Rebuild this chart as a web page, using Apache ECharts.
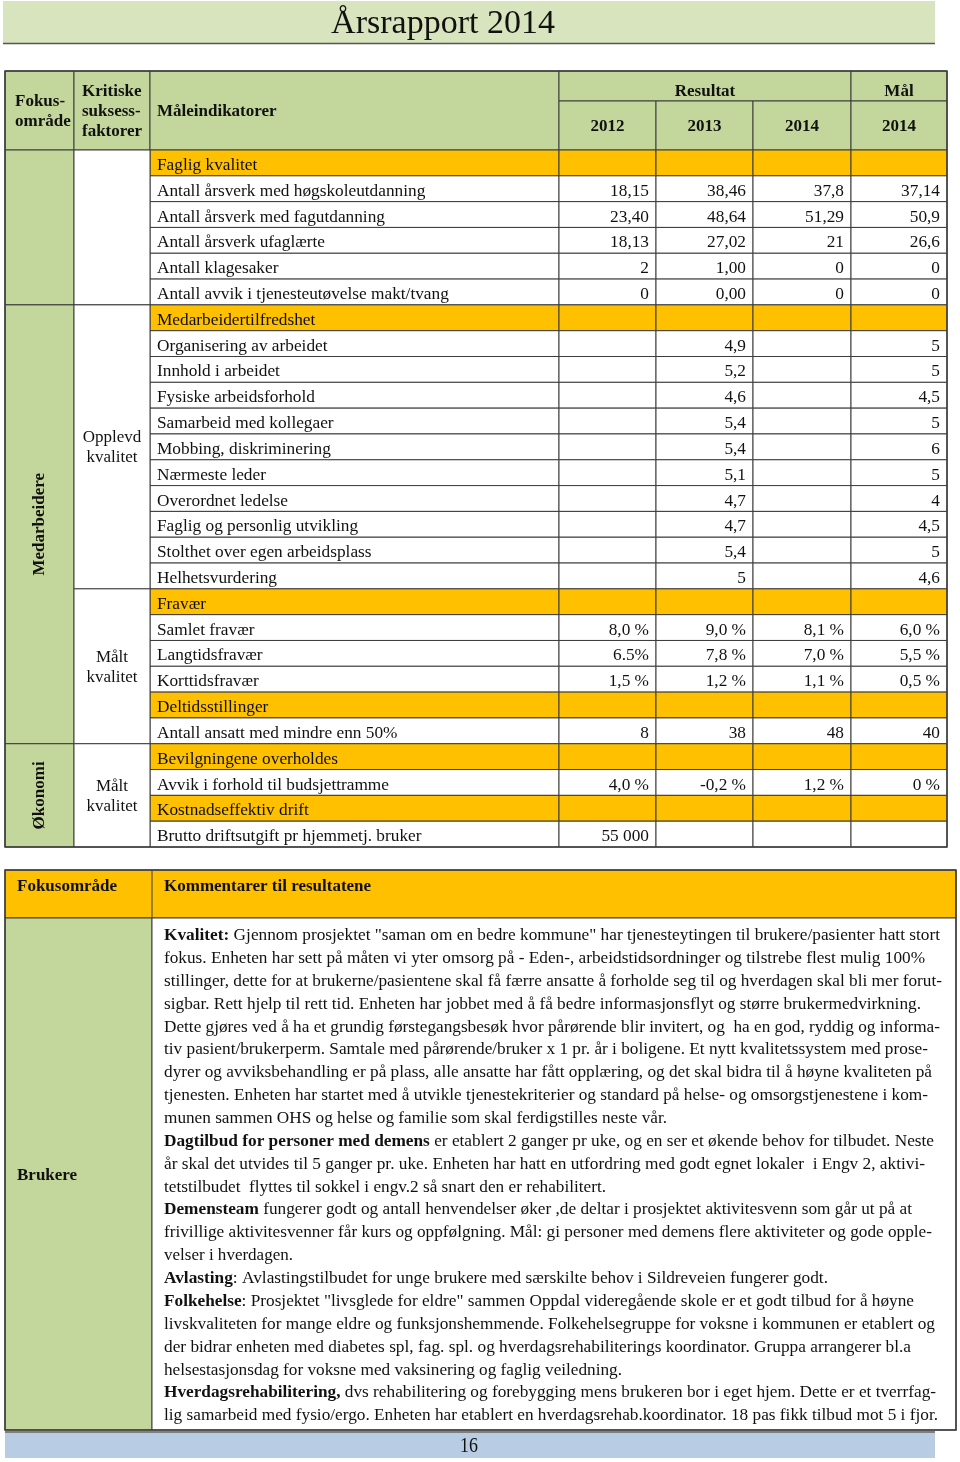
<!DOCTYPE html>
<html>
<head>
<meta charset="utf-8">
<title>Årsrapport 2014</title>
<script src="https://cdn.jsdelivr.net/npm/echarts@6/dist/echarts.min.js"></script>
<style>
html, body { margin: 0; padding: 0; background: #fff; }
#main { width: 960px; height: 1462px; }
</style>
</head>
<body>
<div id="main"></div>
<script>
// ---- data ----
var indicators = [
  'Faglig kvalitet',
  'Antall årsverk med høgskoleutdanning',
  'Antall årsverk med fagutdanning',
  'Antall årsverk ufaglærte',
  'Antall klagesaker',
  'Antall avvik i tjenesteutøvelse makt/tvang',
  'Medarbeidertilfredshet',
  'Organisering av arbeidet',
  'Innhold i arbeidet',
  'Fysiske arbeidsforhold',
  'Samarbeid med kollegaer',
  'Mobbing, diskriminering',
  'Nærmeste leder',
  'Overordnet ledelse',
  'Faglig og personlig utvikling',
  'Stolthet over egen arbeidsplass',
  'Helhetsvurdering',
  'Fravær',
  'Samlet fravær',
  'Langtidsfravær',
  'Korttidsfravær',
  'Deltidsstillinger',
  'Antall ansatt med mindre enn 50%',
  'Bevilgningene overholdes',
  'Avvik i forhold til budsjettramme',
  'Kostnadseffektiv drift',
  'Brutto driftsutgift pr hjemmetj. bruker'
];
var groupHeads = ['Faglig kvalitet', 'Medarbeidertilfredshet', 'Fravær', 'Deltidsstillinger',
  'Bevilgningene overholdes', 'Kostnadseffektiv drift'];

var result2012 = ['', '18,15', '23,40', '18,13', '2', '0',
  '', '', '', '', '', '', '', '', '', '', '',
  '', '8,0 %', '6.5%', '1,5 %', '', '8', '', '4,0 %', '', '55 000'];
var result2013 = ['', '38,46', '48,64', '27,02', '1,00', '0,00',
  '', '4,9', '5,2', '4,6', '5,4', '5,4', '5,1', '4,7', '4,7', '5,4', '5',
  '', '9,0 %', '7,8 %', '1,2 %', '', '38', '', '-0,2 %', '', ''];
var result2014 = ['', '37,8', '51,29', '21', '0', '0',
  '', '', '', '', '', '', '', '', '', '', '',
  '', '8,1 %', '7,0 %', '1,1 %', '', '48', '', '1,2 %', '', ''];
var goal2014 = ['', '37,14', '50,9', '26,6', '0', '0',
  '', '5', '5', '4,5', '5', '6', '5', '4', '4,5', '5', '4,6',
  '', '6,0 %', '5,5 %', '0,5 %', '', '40', '', '0 %', '', ''];

var yearLabels = ['2012', '2013', '2014', '2014'];

// merged cells: label + first/last row
var focusAreas = ['', 'Medarbeidere', 'Økonomi'];
var focusRows = [[0, 5], [6, 22], [23, 26]];
var factors = ['', 'Opplevd\nkvalitet', 'Målt\nkvalitet', 'Målt\nkvalitet'];
var factorRows = [[0, 5], [6, 16], [17, 22], [23, 26]];

// comment text, one entry per printed line: [bold part, normal part]
var noteLines = [
  ['Kvalitet:', ' Gjennom prosjektet "saman om en bedre kommune" har tjenesteytingen til brukere/pasienter hatt stort'],
  ['', 'fokus. Enheten har sett på måten vi yter omsorg på - Eden-, arbeidstidsordninger og tilstrebe flest mulig 100%'],
  ['', 'stillinger, dette for at brukerne/pasientene skal få færre ansatte å forholde seg til og hverdagen skal bli mer forut-'],
  ['', 'sigbar. Rett hjelp til rett tid. Enheten har jobbet med å få bedre informasjonsflyt og større brukermedvirkning.'],
  ['', 'Dette gjøres ved å ha et grundig førstegangsbesøk hvor pårørende blir invitert, og  ha en god, ryddig og informa-'],
  ['', 'tiv pasient/brukerperm. Samtale med pårørende/bruker x 1 pr. år i boligene. Et nytt kvalitetssystem med prose-'],
  ['', 'dyrer og avviksbehandling er på plass, alle ansatte har fått opplæring, og det skal bidra til å høyne kvaliteten på'],
  ['', 'tjenesten. Enheten har startet med å utvikle tjenestekriterier og standard på helse- og omsorgstjenestene i kom-'],
  ['', 'munen sammen OHS og helse og familie som skal ferdigstilles neste vår.'],
  ['Dagtilbud for personer med demens', ' er etablert 2 ganger pr uke, og en ser et økende behov for tilbudet. Neste'],
  ['', 'år skal det utvides til 5 ganger pr. uke. Enheten har hatt en utfordring med godt egnet lokaler  i Engv 2, aktivi-'],
  ['', 'tetstilbudet  flyttes til sokkel i engv.2 så snart den er rehabilitert.'],
  ['Demensteam', ' fungerer godt og antall henvendelser øker ,de deltar i prosjektet aktivitesvenn som går ut på at'],
  ['', 'frivillige aktivitesvenner får kurs og oppfølgning. Mål: gi personer med demens flere aktiviteter og gode opple-'],
  ['', 'velser i hverdagen.'],
  ['Avlasting', ': Avlastingstilbudet for unge brukere med særskilte behov i Sildreveien fungerer godt.'],
  ['Folkehelse', ': Prosjektet "livsglede for eldre" sammen Oppdal videregående skole er et godt tilbud for å høyne'],
  ['', 'livskvaliteten for mange eldre og funksjonshemmende. Folkehelsegruppe for voksne i kommunen er etablert og'],
  ['', 'der bidrar enheten med diabetes spl, fag. spl. og hverdagsrehabiliterings koordinator. Gruppa arrangerer bl.a'],
  ['', 'helsestasjonsdag for voksne med vaksinering og faglig veiledning.'],
  ['Hverdagsrehabilitering,', ' dvs rehabilitering og forebygging mens brukeren bor i eget hjem. Dette er et tverrfag-'],
  ['', 'lig samarbeid med fysio/ergo. Enheten har etablert en hverdagsrehab.koordinator. 18 pas fikk tilbud mot 5 i fjor.']
];

// ---- layout ----
var SERIF = "'Liberation Serif', 'Times New Roman', serif";
var GREEN = '#c3d69b';
var LIGHT_GREEN = '#d7e4bd';
var ORANGE = '#ffc000';
var BLUE = '#b8cce4';
var LINE = '#3c3c3c';
var INK = '#111';
var CELL_SIZE = 17.3;

var colEdges = [0, 69, 145, 554, 651, 748, 846, 942]; // table units (px from table left)
var headRowEdges = [0, 30, 79];
var noteLineEnds = [776, 761, 778, 757, 776, 764, 768, 764, 503, 770, 761, 442,
  748, 768, 129, 664, 750, 771, 747, 458, 772, 774]; // width of each printed line

var valueCols = [result2012, result2013, result2014, goal2014];

var headerCells = [
  { c0: 0, c1: 1, r0: 0, r1: 2, text: 'Fokus-\nområde', align: 'left', pad: 10 },
  { c0: 1, c1: 2, r0: 0, r1: 2, text: 'Kritiske\nsuksess-\nfaktorer', align: 'left', pad: 8 },
  { c0: 2, c1: 3, r0: 0, r1: 2, text: 'Måleindikatorer', align: 'left', pad: 7 },
  { c0: 3, c1: 6, r0: 0, r1: 1, text: 'Resultat', align: 'center', dy: 5 },
  { c0: 6, c1: 7, r0: 0, r1: 1, text: 'Mål', align: 'center', dy: 5 }
];
yearLabels.forEach(function (y, k) {
  headerCells.push({ c0: 3 + k, c1: 4 + k, r0: 1, r1: 2, text: y, align: 'center' });
});

var measureCtx = document.createElement('canvas').getContext('2d');
function textWidth(str, font) {
  measureCtx.font = font;
  return measureCtx.measureText(str).width;
}

function txt(x, y, text, opts) {
  opts = opts || {};
  var align = opts.align || 'left';
  var va = opts.verticalAlign || 'middle';
  return {
    type: 'text', x: x, y: y, rotation: opts.rotation || 0, scaleX: opts.scaleX || 1,
    style: {
      text: text, fill: INK,
      fontFamily: SERIF, fontSize: opts.size || 17, fontWeight: opts.bold ? 'bold' : 'normal',
      lineHeight: opts.lineHeight || 20,
      align: align, textAlign: align, verticalAlign: va, textVerticalAlign: va,
      rich: opts.rich
    }
  };
}

function cellRect(x, y, w, h, fill) {
  return { type: 'rect', shape: { x: x, y: y, width: w, height: h },
    style: { fill: fill, stroke: LINE, lineWidth: 1 } };
}

function renderHeader(params, api) {
  var c = headerCells[params.dataIndex];
  var p0 = api.coord([colEdges[c.c0], headRowEdges[c.r0]]);
  var p1 = api.coord([colEdges[c.c1], headRowEdges[c.r1]]);
  var x = c.align === 'center' ? (p0[0] + p1[0]) / 2 : p0[0] + c.pad;
  return { type: 'group', children: [
    cellRect(p0[0], p0[1], p1[0] - p0[0], p1[1] - p0[1], GREEN),
    txt(x, (p0[1] + p1[1]) / 2 + 1 + (c.dy || 0), c.text, { bold: true, align: c.align, lineHeight: 20 })
  ] };
}

function renderRow(params, api) {
  var i = params.dataIndex;
  var center = api.coord([0, i]);
  var h = api.size([0, 1], [0, i])[1];
  var y0 = center[1] - h / 2;
  var isHead = groupHeads.indexOf(indicators[i]) >= 0;
  var children = [];
  for (var c = 2; c < colEdges.length - 1; c++) {
    var xa = api.coord([colEdges[c], i])[0];
    var xb = api.coord([colEdges[c + 1], i])[0];
    children.push(cellRect(xa, y0, xb - xa, h, isHead ? ORANGE : '#fff'));
    if (c === 2) {
      children.push(txt(xa + 7, center[1] + 2.5, indicators[i], { size: CELL_SIZE }));
    } else if (valueCols[c - 3][i]) {
      children.push(txt(xb - 7, center[1] + 2.5, valueCols[c - 3][i], { align: 'right', size: CELL_SIZE }));
    }
  }
  return { type: 'group', children: children };
}

function spanRenderer(col, labels, rows, fill, vertical) {
  return function (params, api) {
    var k = params.dataIndex;
    var h = api.size([0, 1], [0, rows[k][0]])[1];
    var top = api.coord([colEdges[col], rows[k][0]]);
    var bot = api.coord([colEdges[col + 1], rows[k][1]]);
    var y0 = top[1] - h / 2, y1 = bot[1] + h / 2;
    var cx = (top[0] + bot[0]) / 2, cy = (y0 + y1) / 2;
    var children = [cellRect(top[0], y0, bot[0] - top[0], y1 - y0, fill)];
    if (labels[k]) {
      children.push(vertical
        ? txt(cx, cy, labels[k], { bold: true, align: 'center', rotation: Math.PI / 2 })
        : txt(cx, cy + 1, labels[k], { align: 'center', lineHeight: 20 }));
    }
    return { type: 'group', children: children };
  };
}

var NOTE_SIZE = 16;
function renderNote(params, api) {
  var i = params.dataIndex;
  var p = api.coord([0, i]);
  var line = noteLines[i];
  var w = textWidth(line[0], 'bold ' + NOTE_SIZE + 'px ' + SERIF) +
          textWidth(line[1], NOTE_SIZE + 'px ' + SERIF);
  var target = api.coord([noteLineEnds[i], i])[0] - p[0];
  var text = (line[0] ? '{b|' + line[0] + '}' : '') + '{n|' + line[1] + '}';
  return txt(p[0], p[1] + 1.5, text, {
    size: NOTE_SIZE, scaleX: target / w,
    rich: {
      b: { fontFamily: SERIF, fontSize: NOTE_SIZE, fontWeight: 'bold', fill: INK },
      n: { fontFamily: SERIF, fontSize: NOTE_SIZE, fill: INK }
    }
  });
}

var hiddenValue = function (idx, max) {
  return { type: 'value', gridIndex: idx, min: 0, max: max, show: false };
};

var chart = echarts.init(document.getElementById('main'));
chart.setOption({
  animation: false,
  grid: [
    { left: 5, top: 71, width: 942, height: 79 },
    { left: 5, top: 150, width: 942, height: 697 },
    { left: 164, top: 923, width: 792, height: 503 }
  ],
  xAxis: [hiddenValue(0, 942), hiddenValue(1, 942), hiddenValue(2, 792)],
  yAxis: [
    { type: 'value', gridIndex: 0, min: 0, max: 79, inverse: true, show: false },
    { type: 'category', gridIndex: 1, data: indicators, inverse: true, show: false },
    { type: 'category', gridIndex: 2, data: noteLines.map(function (l, i) { return 'line' + i; }),
      inverse: true, show: false }
  ],
  graphic: [
    // title band
    { type: 'rect', shape: { x: 3, y: 1, width: 932, height: 42 }, style: { fill: LIGHT_GREEN } },
    { type: 'line', shape: { x1: 3, y1: 43.5, x2: 935, y2: 43.5 }, style: { stroke: '#555', lineWidth: 1.5 } },
    txt(443, 24, 'Årsrapport 2014', { size: 34, align: 'center' }),
    // comments table
    { type: 'rect', shape: { x: 5, y: 870, width: 951, height: 48 }, style: { fill: ORANGE, stroke: LINE, lineWidth: 1 } },
    { type: 'line', shape: { x1: 152, y1: 870, x2: 152, y2: 918 }, style: { stroke: LINE, lineWidth: 1 } },
    { type: 'rect', shape: { x: 5, y: 918, width: 147, height: 512 }, style: { fill: GREEN, stroke: LINE, lineWidth: 1 } },
    { type: 'rect', shape: { x: 152, y: 918, width: 804, height: 512 }, style: { fill: '#fff', stroke: LINE, lineWidth: 1 } },
    { type: 'rect', shape: { x: 5, y: 870, width: 951, height: 560 }, style: { fill: null, stroke: LINE, lineWidth: 1.5 } },
    txt(17, 887, 'Fokusområde', { bold: true }),
    txt(164, 887, 'Kommentarer til resultatene', { bold: true }),
    txt(17, 1176, 'Brukere', { bold: true }),
    // footer
    { type: 'line', shape: { x1: 5, y1: 1432, x2: 935, y2: 1432 }, style: { stroke: '#555', lineWidth: 1.5 } },
    { type: 'rect', shape: { x: 5, y: 1433, width: 930, height: 25 }, style: { fill: BLUE } },
    txt(469, 1446, '16', { size: 21, align: 'center', scaleX: 0.85 }),
    // outer frame of the indicator table
    { type: 'rect', z: 100, shape: { x: 5, y: 71, width: 942, height: 776 }, style: { fill: null, stroke: LINE, lineWidth: 1.5 } }
  ],
  series: [
    { type: 'custom', xAxisIndex: 0, yAxisIndex: 0, silent: true,
      data: headerCells.map(function (c, i) { return [0, i]; }), renderItem: renderHeader },
    { type: 'custom', xAxisIndex: 1, yAxisIndex: 1, silent: true,
      data: indicators.map(function (n, i) { return [0, i]; }), renderItem: renderRow },
    { type: 'custom', xAxisIndex: 1, yAxisIndex: 1, silent: true,
      data: focusAreas.map(function (n, k) { return [0, focusRows[k][0]]; }),
      renderItem: spanRenderer(0, focusAreas, focusRows, GREEN, true) },
    { type: 'custom', xAxisIndex: 1, yAxisIndex: 1, silent: true,
      data: factors.map(function (n, k) { return [0, factorRows[k][0]]; }),
      renderItem: spanRenderer(1, factors, factorRows, '#fff', false) },
    { type: 'custom', xAxisIndex: 2, yAxisIndex: 2, silent: true,
      data: noteLines.map(function (l, i) { return [0, i]; }), renderItem: renderNote }
  ]
});
</script>
</body>
</html>
